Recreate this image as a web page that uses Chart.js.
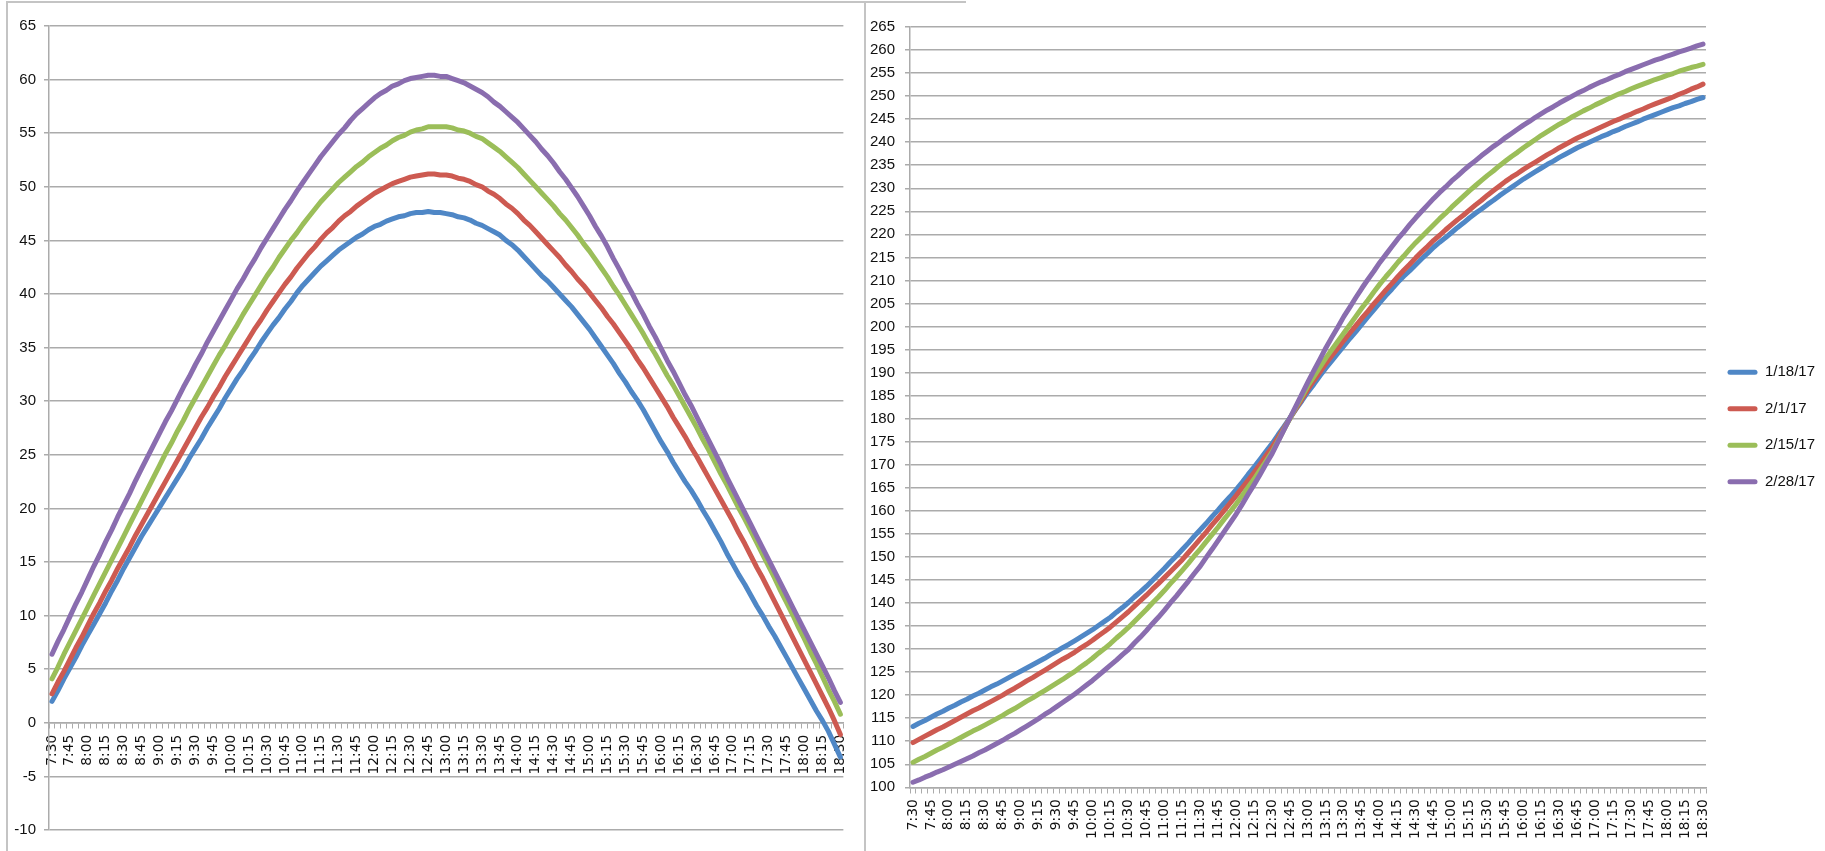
<!DOCTYPE html>
<html><head><meta charset="utf-8">
<script src="https://cdn.jsdelivr.net/npm/chart.js@4.4.1/dist/chart.umd.min.js"></script>
<style>
html,body{margin:0;padding:0;background:#fff;}
body{width:1825px;height:851px;position:relative;overflow:hidden;}
canvas{position:absolute;top:0;}
.frame{position:absolute;background:#c4c4c4;}
</style></head><body>
<div class="frame" style="left:6px;top:1px;width:2px;height:850px"></div>
<div class="frame" style="left:6px;top:1px;width:960px;height:2px"></div>
<div class="frame" style="left:864px;top:1px;width:2px;height:850px"></div>
<canvas id="elev" width="864" height="851" style="left:0"></canvas>
<canvas id="azim" width="959" height="851" style="left:866px"></canvas>
<script>
const timeLabels = [
"7:30","7:35","7:40","7:45","7:50","7:55",
"8:00","8:05","8:10","8:15","8:20","8:25","8:30","8:35","8:40","8:45","8:50","8:55",
"9:00","9:05","9:10","9:15","9:20","9:25","9:30","9:35","9:40","9:45","9:50","9:55",
"10:00","10:05","10:10","10:15","10:20","10:25","10:30","10:35","10:40","10:45","10:50","10:55",
"11:00","11:05","11:10","11:15","11:20","11:25","11:30","11:35","11:40","11:45","11:50","11:55",
"12:00","12:05","12:10","12:15","12:20","12:25","12:30","12:35","12:40","12:45","12:50","12:55",
"13:00","13:05","13:10","13:15","13:20","13:25","13:30","13:35","13:40","13:45","13:50","13:55",
"14:00","14:05","14:10","14:15","14:20","14:25","14:30","14:35","14:40","14:45","14:50","14:55",
"15:00","15:05","15:10","15:15","15:20","15:25","15:30","15:35","15:40","15:45","15:50","15:55",
"16:00","16:05","16:10","16:15","16:20","16:25","16:30","16:35","16:40","16:45","16:50","16:55",
"17:00","17:05","17:10","17:15","17:20","17:25","17:30","17:35","17:40","17:45","17:50","17:55",
"18:00","18:05","18:10","18:15","18:20","18:25","18:30"];

const seriesNames = ["1/18/17","2/1/17","2/15/17","2/28/17"];

// Left chart: sun elevation (degrees)
const elev_0118 = [
2.0,3.0,4.1,5.1,6.1,7.2,8.2,9.2,10.2,11.2,12.3,13.3,
14.4,15.4,16.4,17.4,18.3,19.2,20.1,21.0,21.9,22.8,23.7,24.7,
25.6,26.5,27.5,28.4,29.3,30.3,31.2,32.1,32.9,33.8,34.6,35.5,
36.3,37.1,37.8,38.6,39.3,40.1,40.8,41.4,42.0,42.6,43.1,43.6,
44.1,44.5,44.9,45.3,45.6,46.0,46.3,46.5,46.8,47.0,47.2,47.3,
47.5,47.6,47.6,47.7,47.6,47.6,47.5,47.4,47.2,47.1,46.9,46.6,
46.4,46.1,45.8,45.5,45.0,44.6,44.1,43.5,42.9,42.3,41.7,41.2,
40.6,40.0,39.4,38.8,38.1,37.4,36.7,35.9,35.1,34.3,33.5,32.6,
31.8,30.9,30.1,29.2,28.2,27.2,26.2,25.3,24.3,23.4,22.5,21.7,
20.8,19.8,18.9,17.9,16.9,15.8,14.8,13.8,12.9,11.9,10.9,10.0,
9.0,8.1,7.1,6.1,5.1,4.1,3.1,2.1,1.1,0.2,-0.8,-2.0,
-3.2];
const elev_0201 = [
2.7,3.8,4.8,5.9,7.0,8.0,9.1,10.2,11.2,12.3,13.3,14.4,
15.4,16.4,17.5,18.5,19.5,20.5,21.5,22.5,23.5,24.5,25.5,26.5,
27.5,28.5,29.4,30.4,31.3,32.3,33.2,34.1,35.0,35.9,36.8,37.6,
38.5,39.3,40.1,40.9,41.6,42.4,43.1,43.8,44.4,45.1,45.7,46.2,
46.8,47.3,47.7,48.2,48.6,49.0,49.4,49.7,50.0,50.3,50.5,50.7,
50.9,51.0,51.1,51.2,51.2,51.1,51.1,51.0,50.8,50.7,50.5,50.2,
50.0,49.6,49.3,48.9,48.4,48.0,47.5,46.9,46.4,45.8,45.2,44.6,
44.0,43.4,42.7,42.1,41.4,40.8,40.1,39.4,38.7,37.9,37.2,36.4,
35.6,34.8,33.9,33.1,32.2,31.3,30.4,29.5,28.5,27.6,26.7,25.7,
24.8,23.8,22.8,21.8,20.8,19.8,18.8,17.7,16.7,15.6,14.5,13.5,
12.4,11.3,10.2,9.1,8.0,6.9,5.8,4.7,3.6,2.5,1.4,0.2,
-1.1];
const elev_0215 = [
4.1,5.2,6.4,7.5,8.6,9.7,10.8,11.9,13.0,14.1,15.2,16.3,
17.4,18.5,19.6,20.7,21.8,22.9,24.0,25.1,26.1,27.2,28.2,29.3,
30.3,31.3,32.3,33.3,34.3,35.2,36.2,37.1,38.1,39.0,39.9,40.8,
41.7,42.5,43.4,44.2,45.0,45.7,46.5,47.2,47.9,48.6,49.2,49.8,
50.4,50.9,51.4,51.9,52.3,52.8,53.2,53.6,53.9,54.3,54.6,54.8,
55.1,55.3,55.4,55.6,55.6,55.6,55.6,55.5,55.3,55.2,55.0,54.7,
54.5,54.1,53.7,53.3,52.8,52.3,51.8,51.2,50.6,50.0,49.4,48.8,
48.2,47.5,46.9,46.2,45.5,44.7,44.0,43.2,42.4,41.6,40.7,39.9,
39.0,38.1,37.2,36.3,35.3,34.4,33.4,32.4,31.5,30.5,29.5,28.5,
27.5,26.4,25.4,24.3,23.2,22.2,21.1,20.0,19.0,17.9,16.8,15.7,
14.6,13.5,12.3,11.2,10.1,8.9,7.8,6.6,5.5,4.3,3.1,2.0,
0.8];
const elev_0228 = [
6.4,7.6,8.7,9.9,11.1,12.2,13.4,14.6,15.7,16.9,18.0,19.2,
20.3,21.4,22.6,23.7,24.8,25.9,27.0,28.1,29.1,30.2,31.3,32.3,
33.4,34.4,35.5,36.5,37.5,38.5,39.5,40.5,41.4,42.4,43.3,44.3,
45.2,46.1,47.0,47.9,48.7,49.6,50.4,51.2,52.0,52.8,53.5,54.2,
54.9,55.5,56.2,56.8,57.3,57.8,58.3,58.7,59.0,59.4,59.6,59.9,
60.1,60.2,60.3,60.4,60.4,60.3,60.3,60.1,59.9,59.7,59.4,59.1,
58.8,58.4,57.9,57.5,57.0,56.5,56.0,55.4,54.8,54.2,53.5,52.9,
52.2,51.4,50.7,49.9,49.1,48.2,47.3,46.3,45.4,44.4,43.3,42.3,
41.2,40.2,39.1,38.1,37.0,36.0,34.9,33.8,32.8,31.7,30.6,29.6,
28.5,27.4,26.3,25.2,24.1,22.9,21.8,20.7,19.6,18.5,17.4,16.3,
15.2,14.1,13.0,11.9,10.8,9.7,8.6,7.5,6.4,5.3,4.2,3.0,
1.9];

// Right chart: sun azimuth (degrees)
const azim_0118 = [
113.2,113.9,114.5,115.2,115.9,116.5,117.2,117.8,118.5,119.1,119.8,120.4,
121.1,121.8,122.4,123.1,123.8,124.5,125.2,125.9,126.6,127.3,128.0,128.8,
129.5,130.3,131.0,131.8,132.6,133.4,134.2,135.1,136.0,136.9,138.0,139.0,
140.1,141.3,142.4,143.6,144.9,146.2,147.5,148.9,150.2,151.6,153.0,154.5,
155.9,157.3,158.8,160.2,161.7,163.1,164.6,166.2,167.9,169.5,171.2,172.9,
174.6,176.5,178.3,180.2,182.1,183.9,185.8,187.5,189.3,191.0,192.6,194.2,
195.8,197.4,198.9,200.5,202.1,203.6,205.2,206.7,208.1,209.6,210.9,212.1,
213.4,214.7,215.9,217.2,218.3,219.3,220.4,221.5,222.5,223.6,224.6,225.5,
226.5,227.4,228.4,229.3,230.2,231.1,232.0,232.8,233.6,234.4,235.2,235.9,
236.7,237.4,238.1,238.8,239.4,240.0,240.6,241.2,241.7,242.3,242.8,243.4,
243.9,244.4,245.0,245.5,246.0,246.5,247.0,247.5,247.9,248.4,248.8,249.3,
249.7];
const azim_0201 = [
109.7,110.4,111.1,111.8,112.5,113.1,113.8,114.5,115.2,115.9,116.6,117.2,
117.9,118.6,119.3,120.0,120.8,121.5,122.3,123.1,123.8,124.6,125.4,126.2,
127.0,127.8,128.5,129.3,130.2,131.0,131.9,132.9,133.8,134.8,135.9,137.0,
138.1,139.3,140.5,141.7,143.0,144.2,145.5,146.8,148.1,149.4,150.9,152.4,
153.9,155.4,157.0,158.5,160.1,161.7,163.3,165.0,166.6,168.3,170.1,172.0,
173.8,175.9,178.0,180.1,182.2,184.3,186.4,188.3,190.1,192.0,193.7,195.3,
197.0,198.6,200.2,201.8,203.3,204.9,206.4,207.9,209.3,210.8,212.2,213.5,
214.9,216.2,217.4,218.7,219.8,221.0,222.1,223.2,224.2,225.3,226.4,227.4,
228.5,229.5,230.5,231.5,232.4,233.2,234.1,234.9,235.7,236.5,237.3,238.0,
238.8,239.5,240.2,240.9,241.5,242.1,242.7,243.3,243.9,244.5,245.0,245.6,
246.1,246.7,247.2,247.8,248.3,248.8,249.3,249.8,250.4,250.9,251.5,252.0,
252.6];
const azim_0215 = [
105.4,106.1,106.7,107.4,108.1,108.7,109.4,110.1,110.8,111.5,112.2,112.8,
113.5,114.2,114.9,115.6,116.4,117.1,117.9,118.7,119.4,120.2,121.0,121.8,
122.6,123.4,124.3,125.1,126.1,127.0,128.0,129.1,130.1,131.2,132.4,133.5,
134.7,136.0,137.3,138.6,140.0,141.3,142.7,144.2,145.6,147.1,148.6,150.2,
151.7,153.3,154.9,156.5,158.2,159.8,161.5,163.3,165.1,166.9,168.9,170.8,
172.8,175.2,177.7,180.1,182.5,184.8,187.2,189.2,191.2,193.2,195.0,196.8,
198.6,200.4,202.2,204.0,205.7,207.5,209.2,210.8,212.3,213.9,215.3,216.8,
218.2,219.5,220.8,222.1,223.4,224.6,225.9,227.1,228.3,229.5,230.6,231.7,
232.8,233.8,234.9,235.9,236.9,237.8,238.8,239.7,240.6,241.5,242.3,243.1,
243.9,244.6,245.4,246.1,246.8,247.4,248.1,248.7,249.3,249.9,250.5,251.0,
251.6,252.1,252.6,253.1,253.6,254.0,254.5,254.9,255.4,255.8,256.2,256.5,
256.9];
const azim_0228 = [
101.1,101.6,102.2,102.7,103.3,103.8,104.4,105.0,105.6,106.2,106.8,107.5,
108.1,108.8,109.5,110.2,111.0,111.7,112.5,113.3,114.1,114.9,115.8,116.6,
117.5,118.4,119.3,120.2,121.2,122.2,123.2,124.3,125.4,126.5,127.6,128.8,
129.9,131.3,132.6,134.0,135.5,136.9,138.4,140.0,141.5,143.1,144.7,146.4,
148.0,149.9,151.7,153.6,155.5,157.4,159.3,161.4,163.6,165.7,167.9,170.2,
172.4,175.0,177.6,180.2,182.8,185.4,188.0,190.5,192.9,195.4,197.7,199.9,
202.2,204.2,206.3,208.3,210.2,212.0,213.9,215.6,217.3,219.0,220.5,222.1,
223.6,225.0,226.4,227.8,229.1,230.3,231.6,232.7,233.9,235.0,236.0,237.1,
238.1,239.1,240.0,241.0,241.9,242.8,243.7,244.5,245.4,246.2,247.0,247.7,
248.5,249.2,249.9,250.6,251.2,251.9,252.5,253.1,253.6,254.2,254.7,255.3,
255.8,256.3,256.8,257.3,257.8,258.2,258.7,259.1,259.6,260.0,260.4,260.9,
261.3];

// ---- styling (kept apart from data) ----
const seriesColors = ["#4F87C6", "#CD5A51", "#9BBE59", "#8A6DAF"];
const GRID = "#ABABAB";
const TEXT = "#111111";
const labelFont = "'Liberation Sans','Arial',sans-serif";
const xFont = "'DejaVu Sans',sans-serif";

function buildDatasets(seriesList) {
  return seriesList.map((vals, k) => ({
    label: seriesNames[k],
    data: vals,
    borderColor: seriesColors[k],
    backgroundColor: seriesColors[k],
    borderWidth: 5,
    pointRadius: 0,
    pointHoverRadius: 0,
    fill: false,
    tension: 0,
    borderCapStyle: 'round',
    borderJoinStyle: 'round',
    order: seriesList.length - k
  }));
}

function xScale(position) {
  return {
    type: 'category',
    offset: true,
    position: position,
    grid: { display: true, drawOnChartArea: false, drawTicks: true, tickLength: 5, offset: true, color: GRID, lineWidth: 1 },
    border: { display: true, color: GRID, width: 1.5 },
    ticks: {
      autoSkip: false, minRotation: 90, maxRotation: 90, padding: 7, color: TEXT,
      font: { family: xFont, size: 13.8 },
      callback: (v, i) => (i % 3 === 0 ? timeLabels[i] : '')
    }
  };
}

function yScale(min, max, pad, width) {
  return {
    min: min, max: max,
    ticks: { stepSize: 5, autoSkip: false, maxTicksLimit: 100, padding: pad, color: TEXT, font: { family: labelFont, size: 15 } },
    grid: { color: GRID, lineWidth: 1.5, tickLength: 5 },
    border: { color: GRID, width: 1.5 },
    afterFit: (s) => { s.width = width; }
  };
}

// Left: elevation
new Chart(document.getElementById('elev'), {
  type: 'line',
  data: { labels: timeLabels, datasets: buildDatasets([elev_0118, elev_0201, elev_0215, elev_0228]) },
  options: {
    responsive: false, animation: false, devicePixelRatio: 1,
    layout: { padding: { top: 26, right: 15, bottom: 21, left: 0 } },
    plugins: { legend: { display: false }, tooltip: { enabled: false } },
    scales: {
      x: xScale({ y: 0 }),
      y: yScale(-10, 65, 8, 49)
    }
  }
});

// Right: azimuth
const legendWidthFix = {
  id: 'legendWidthFix',
  beforeLayout(chart) {
    const lg = chart.legend;
    if (lg && !lg.__fixed) {
      const orig = lg.fit;
      lg.fit = function () { orig.call(this); this.width = 119; };
      lg.__fixed = true;
    }
  }
};

new Chart(document.getElementById('azim'), {
  type: 'line',
  data: { labels: timeLabels, datasets: buildDatasets([azim_0118, azim_0201, azim_0215, azim_0228]) },
  options: {
    responsive: false, animation: false, devicePixelRatio: 1,
    layout: { padding: { top: 27, right: 0, bottom: 63.7, left: 0 } },
    plugins: {
      tooltip: { enabled: false },
      legend: {
        position: 'right', align: 'start',
        title: { display: true, text: ' ', font: { size: 1 }, padding: { top: 315, bottom: 0 } },
        labels: {
          boxWidth: 30, boxHeight: 5, padding: 21.5, color: TEXT,
          useBorderRadius: true, borderRadius: 2.5,
          font: { family: labelFont, size: 15 },
          sort: (a, b) => a.datasetIndex - b.datasetIndex,
          generateLabels(chart) {
            const items = Chart.defaults.plugins.legend.labels.generateLabels(chart);
            items.forEach(it => { it.lineWidth = 0; });
            return items;
          }
        }
      }
    },
    scales: {
      x: xScale({ y: 100 }),
      y: yScale(100, 265, 10, 44)
    }
  },
  plugins: [legendWidthFix]
});
</script>
</body></html>
